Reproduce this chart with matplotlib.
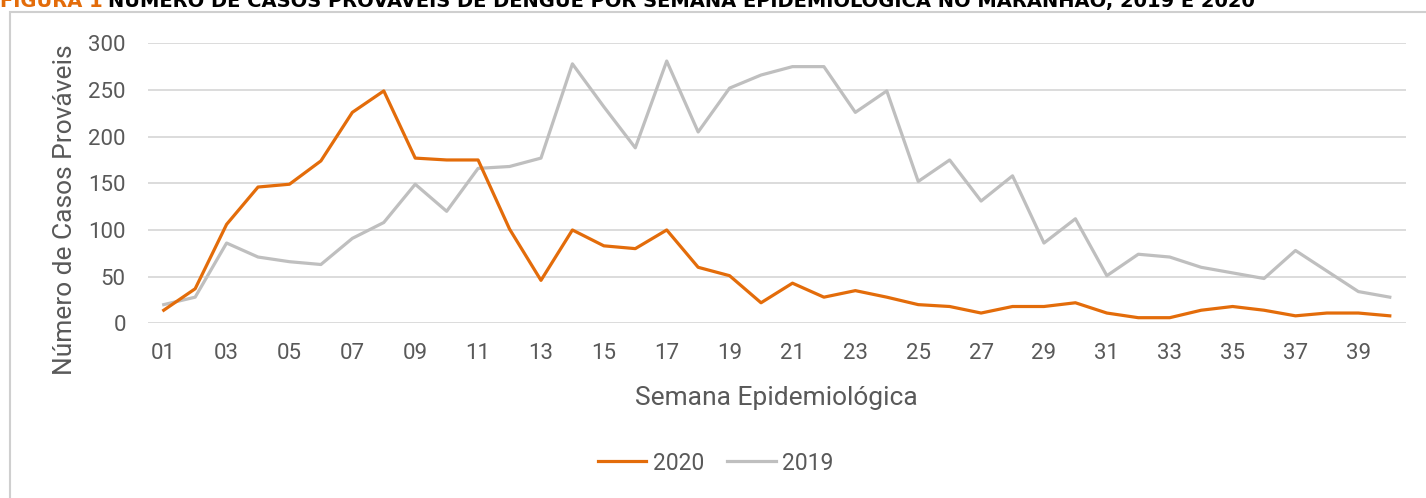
import matplotlib.pyplot as plt
from matplotlib.patches import Rectangle

plt.rcParams['font.family'] = ['Roboto', 'DejaVu Sans']

semanas = list(range(1, 41))
casos_2020 = [14, 37, 106, 146, 149, 174, 226, 249, 177, 175,
              175, 101, 46, 100, 83, 80, 100, 60, 51, 22,
              43, 28, 35, 28, 20, 18, 11, 18, 18, 22,
              11, 6, 6, 14, 18, 14, 8, 11, 11, 8]
casos_2019 = [20, 28, 86, 71, 66, 63, 91, 108, 149, 120,
              166, 168, 177, 278, 232, 188, 281, 205, 252, 266,
              275, 275, 226, 249, 152, 175, 131, 158, 86, 112,
              51, 74, 71, 60, 54, 48, 78, 56, 34, 28]
rotulos_x = ['%02d' % s for s in semanas if s % 2 == 1]
ticks_y = [0, 50, 100, 150, 200, 250, 300]

W, H = 1426, 498
fig = plt.figure(figsize=(W / 100, H / 100), dpi=100)
ax = fig.add_axes([148 / W, 1 - 323.3 / H, (1405.5 - 148) / W, 280 / H])

# moldura cinza
fig.add_artist(Rectangle((10 / W, -0.1), 1.2, 1 - 12 / H + 0.1, transform=fig.transFigure,
                         fill=False, edgecolor='#CFCFCF', linewidth=1.5))

# titulo (cortado no topo, como na figura original)
fig.text(0 / W, 1 - 7 / H, 'FIGURA 1', color='#E36C0A', fontsize=14, fontweight='bold',
         va='baseline', ha='left', family=['DejaVu Sans'])
fig.text(108 / W, 1 - 7 / H,
         'NÚMERO DE CASOS PROVÁVEIS DE DENGUE POR SEMANA EPIDEMIOLÓGICA NO MARANHÃO, 2019 E 2020',
         color='black', fontsize=14, fontweight='bold', va='baseline', ha='left',
         family=['DejaVu Sans'])

l1, = ax.plot(semanas, casos_2020, color='#E36C0A', lw=2.3, label='2020', zorder=3)
l2, = ax.plot(semanas, casos_2019, color='#BFBFBF', lw=2.3, label='2019', zorder=2)

ax.set_xlim(0.5, 40.5)
ax.set_ylim(0, 300)
ax.set_yticks(ticks_y)
ax.set_xticks([s for s in semanas if s % 2 == 1])
ax.set_xticklabels(rotulos_x)
ax.grid(axis='y', color='#D9D9D9', lw=1.3)
ax.set_axisbelow(True)
for sp in ax.spines.values():
    sp.set_visible(False)
ax.tick_params(length=0, labelsize=16, colors='#595959')
ax.tick_params(axis='y', pad=16)
ax.tick_params(axis='x', pad=14)

ax.set_ylabel('Número de Casos Prováveis', fontsize=19, color='#595959')
ax.yaxis.set_label_coords(-0.066, 0.405)
ax.set_xlabel('Semana Epidemiológica', fontsize=19, color='#595959')
ax.xaxis.set_label_coords(0.5, -0.267)
ax.xaxis.label.set_va('center')
ax.yaxis.label.set_va('center')

fig.legend(handles=[l1, l2], loc='center', bbox_to_anchor=(716 / W, 1 - 463 / H), ncol=2,
           frameon=False, fontsize=16.5, labelcolor='#595959', handlelength=2.1,
           handletextpad=0.3, columnspacing=1.0)

fig.savefig('out.png', dpi=100)
